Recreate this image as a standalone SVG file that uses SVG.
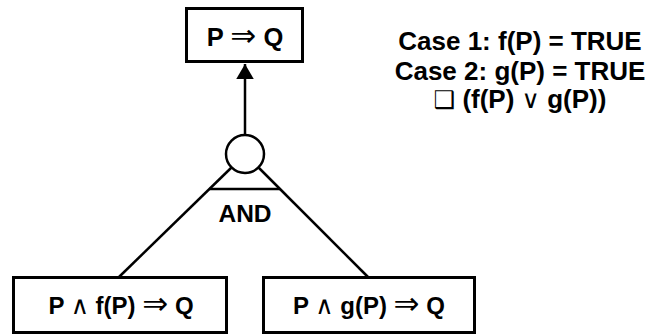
<svg xmlns="http://www.w3.org/2000/svg" width="653" height="335" viewBox="0 0 653 335">
  <style>
    .box { fill: #ffffff; stroke: #000000; stroke-width: 3; }
    .line { fill: none; stroke: #000000; stroke-width: 2.5; }
    .lbl { font-family: "Liberation Sans", Arial, sans-serif; font-weight: bold; fill: #000000; text-anchor: middle; }
    .sym { font-family: "DejaVu Sans", sans-serif; font-weight: normal; }
    .arr { font-size: 31px; }
    .wedge { font-size: 25px; }
    .sq { font-size: 24px; }
  </style>
  <defs>
    <marker id="arrowhead" markerWidth="6" markerHeight="7" refX="6" refY="3.5" orient="auto" markerUnits="strokeWidth">
      <path d="M0,0 L6,3.5 L0,7 Z" fill="#000000"/>
    </marker>
  </defs>

  <g id="connectors">
    <line class="line" x1="245" y1="135" x2="245" y2="64" marker-end="url(#arrowhead)"/>
    <line class="line" x1="231.5" y1="167.5" x2="119" y2="277"/>
    <line class="line" x1="258.5" y1="167.5" x2="368" y2="277"/>
  </g>

  <g id="and-gate">
    <circle cx="245" cy="154" r="19" fill="#ffffff" stroke="#000000" stroke-width="2.5"/>
    <line class="line" x1="209.5" y1="189" x2="280" y2="189"/>
    <text class="lbl" x="245" y="222" font-size="24.5">AND</text>
  </g>

  <g id="goal">
    <rect class="box" x="186.5" y="8.5" width="116" height="53"/>
    <text class="lbl" x="245" y="45.5" font-size="25.5">P <tspan class="sym arr">⇒</tspan> Q</text>
  </g>

  <g id="case-f">
    <rect class="box" x="13.5" y="277.5" width="213" height="55"/>
    <text class="lbl" x="121" y="313.5" font-size="24">P <tspan class="sym wedge">∧</tspan> f(P) <tspan class="sym arr">⇒</tspan> Q</text>
  </g>

  <g id="case-g">
    <rect class="box" x="263.5" y="277.5" width="211" height="55"/>
    <text class="lbl" x="369" y="313.5" font-size="24">P <tspan class="sym wedge">∧</tspan> g(P) <tspan class="sym arr">⇒</tspan> Q</text>
  </g>

  <g id="cases">
    <text class="lbl" x="520" y="50" font-size="26">Case 1: f(P) = TRUE</text>
    <text class="lbl" x="520" y="79.5" font-size="26">Case 2: g(P) = TRUE</text>
    <text class="lbl" x="520" y="108" font-size="26"><tspan class="sym sq">❑</tspan> (f(P) <tspan class="sym wedge">∨</tspan> g(P))</text>
  </g>
</svg>
